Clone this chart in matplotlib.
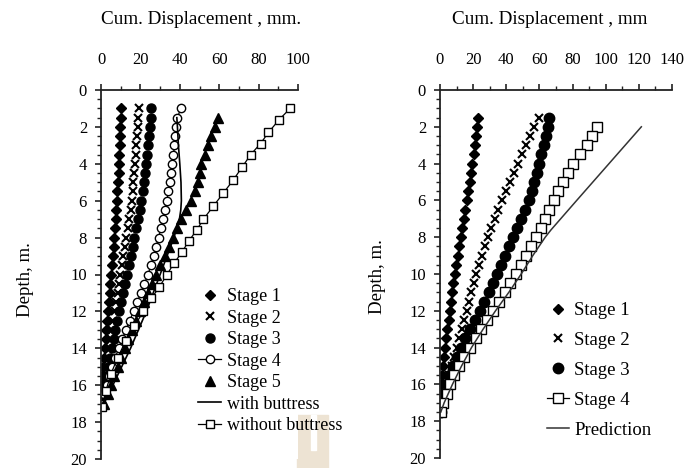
import matplotlib
matplotlib.use('Agg')
import matplotlib.pyplot as plt
from matplotlib.ticker import MultipleLocator
from matplotlib.patches import Rectangle

plt.rcParams['font.family'] = ['Liberation Serif', 'DejaVu Serif']

# ---- left chart: inclinometer readings (depth in m, displacement in mm) ----
depth_left = [1.0, 1.5, 2.0, 2.5, 3.0, 3.5, 4.0, 4.5, 5.0, 5.5, 6.0, 6.5, 7.0, 7.5, 8.0, 8.5,
              9.0, 9.5, 10.0, 10.5, 11.0, 11.5, 12.0, 12.5, 13.0, 13.5, 14.0, 14.5, 15.0,
              15.5, 16.0, 16.5, 17.0]
left_stage1 = [10.0, 10.0, 9.8, 9.7, 9.5, 9.3, 9.1, 8.9, 8.6, 8.3, 8.0, 7.7, 7.4, 7.1, 6.8, 6.4,
               6.0, 5.6, 5.2, 4.8, 4.4, 3.9, 3.5, 3.1, 2.7, 2.3, 1.9, 1.5, 1.2, 0.9, 0.6, 0.3, 0.0]
left_stage2 = [19.3, 19.0, 18.7, 18.4, 18.0, 17.6, 17.2, 16.8, 16.4, 16.0, 15.5, 15.0, 14.3,
               13.5, 12.6, 12.0, 11.3, 10.6, 9.8, 9.2, 8.5, 7.8, 7.0, 6.3, 5.6, 4.9, 4.1, 3.4,
               2.7, 2.0, 1.3, 0.6, 0.0]
left_stage3 = [25.5, 25.3, 25.0, 24.6, 24.1, 23.6, 23.0, 22.4, 21.8, 21.1, 20.4, 19.6, 18.8,
               17.9, 17.0, 16.1, 15.1, 14.1, 13.1, 12.1, 11.1, 10.1, 9.1, 8.2, 7.3, 6.4, 5.5,
               4.6, 3.7, 2.8, 1.9, 0.9, 0.0]
left_stage4 = [40.5, 38.8, 38.2, 37.7, 37.3, 36.8, 36.2, 35.6, 34.9, 34.2, 33.4, 32.5, 31.5,
               30.4, 29.2, 28.0, 26.7, 25.3, 23.9, 22.0, 20.2, 18.4, 16.5, 14.6, 12.7, 10.8,
               9.0, 7.3, 5.7, 4.2, 2.8, 1.4, 0.0]
depth_stage5 = [1.5, 2.0, 2.5, 3.0, 3.5, 4.0, 4.5, 5.0, 5.5, 6.0, 6.5, 7.0, 7.5, 8.0, 8.5, 9.0,
                9.5, 10.0, 10.5, 11.0, 11.5, 12.0, 12.5, 13.0, 13.5, 14.0, 14.5, 15.0, 15.5,
                16.0, 16.5, 17.0]
left_stage5 = [59.5, 57.8, 56.0, 54.4, 52.7, 51.0, 50.0, 49.0, 47.5, 45.5, 43.0, 40.5, 38.5,
               36.5, 34.5, 32.3, 30.2, 28.0, 25.8, 23.7, 21.6, 19.6, 17.7, 15.8, 13.9, 12.0,
               10.2, 8.4, 6.7, 5.0, 3.3, 1.6]
depth_buttress = [1.5, 2.0, 3.0, 4.0, 5.0, 6.0, 6.5, 7.0, 8.0, 9.0, 10.0, 11.0, 12.0, 13.0,
                  14.0, 15.0, 16.0, 17.0]
with_buttress = [38.5, 38.8, 39.3, 40.0, 40.6, 40.8, 40.5, 39.8, 37.0, 33.5, 30.0, 26.5, 23.0,
                 19.0, 15.0, 10.5, 6.0, 1.5]
depth_no_buttress = [1.0, 1.6, 2.3, 2.9, 3.5, 4.2, 4.9, 5.6, 6.3, 7.0, 7.6, 8.2, 8.8, 9.4, 10.0,
                     10.7, 11.3, 12.0, 12.8, 13.6, 14.5, 15.4, 16.3, 17.2]
without_buttress = [96.0, 90.5, 85.0, 81.0, 76.0, 71.5, 67.0, 62.0, 57.0, 52.0, 48.5, 44.5,
                    41.0, 37.0, 33.5, 29.5, 25.5, 21.5, 17.0, 12.5, 8.5, 5.0, 2.5, 0.5]

# ---- right chart ----
depth_right = [1.5, 2.0, 2.5, 3.0, 3.5, 4.0, 4.5, 5.0, 5.5, 6.0, 6.5, 7.0, 7.5, 8.0, 8.5, 9.0,
               9.5, 10.0, 10.5, 11.0, 11.5, 12.0, 12.5, 13.0, 13.5, 14.0, 14.5, 15.0, 15.5,
               16.0, 16.5, 17.0, 17.5]
right_stage1 = [22.7, 22.2, 21.6, 21.0, 20.3, 19.6, 18.8, 18.0, 17.1, 16.2, 15.3, 14.3, 13.3,
                12.4, 11.5, 10.6, 9.7, 8.8, 8.0, 7.3, 6.6, 5.9, 5.2, 4.5, 3.8, 3.1, 2.5, 1.9,
                1.4, 0.9, 0.5, 0.2, 0.0]
right_stage2 = [60.0, 57.0, 54.5, 52.0, 49.5, 47.0, 44.5, 42.0, 39.7, 37.5, 35.2, 33.0, 31.0,
                29.0, 27.2, 25.5, 23.7, 22.0, 20.5, 19.0, 17.5, 16.0, 14.5, 13.0, 11.5, 10.0,
                8.5, 7.0, 5.5, 4.0, 2.7, 1.5, 0.5]
right_stage3 = [66.0, 65.0, 63.8, 62.5, 61.2, 60.0, 58.5, 57.0, 55.3, 53.5, 51.3, 49.0, 46.5,
                44.0, 41.5, 39.0, 36.8, 34.5, 32.0, 29.5, 26.8, 24.0, 21.0, 18.0, 15.2, 12.5,
                10.2, 8.0, 6.0, 4.0, 2.6, 1.5, 0.5]
depth_right_stage4 = [2.0, 2.5, 3.0, 3.5, 4.0, 4.5, 5.0, 5.5, 6.0, 6.5, 7.0, 7.5, 8.0, 8.5, 9.0,
                      9.5, 10.0, 10.5, 11.0, 11.5, 12.0, 12.5, 13.0, 13.5, 14.0, 14.5, 15.0,
                      15.5, 16.0, 16.5, 17.0, 17.5]
right_stage4 = [94.5, 91.5, 88.5, 84.5, 80.5, 77.5, 74.5, 71.5, 68.5, 66.0, 63.5, 61.0, 58.0,
                55.0, 52.0, 49.0, 46.0, 42.5, 39.0, 35.5, 32.0, 28.5, 25.0, 21.5, 18.0, 14.5,
                11.5, 8.5, 6.0, 4.0, 2.0, 0.5]
depth_prediction = [2.0, 4.0, 6.0, 7.6, 8.0, 9.0, 10.0, 11.0, 12.0, 13.0, 14.0, 15.0, 16.0,
                    17.0, 17.5]
prediction = [121.5, 102.0, 82.5, 67.0, 63.5, 56.0, 49.0, 41.5, 33.5, 26.0, 19.0, 13.0, 7.5,
              2.5, 0.5]

W, H = 686, 468
fig = plt.figure(figsize=(W / 100, H / 100), dpi=100)


def px_axes(x0, x1, ytop, ybot):
    # axes rectangle from pixel edges
    return fig.add_axes([x0 / W, 1 - ybot / H, (x1 - x0) / W, (ybot - ytop) / H])


def style_axes(ax, xmax):
    ax.set_xlim(0, xmax)
    ax.set_ylim(20, 0)
    ax.xaxis.set_major_locator(MultipleLocator(20))
    ax.xaxis.set_minor_locator(MultipleLocator(10))
    ax.yaxis.set_major_locator(MultipleLocator(2))
    ax.yaxis.set_minor_locator(MultipleLocator(0.5))
    ax.xaxis.tick_top()
    ax.spines['right'].set_visible(False)
    ax.spines['bottom'].set_visible(False)
    for s in ('top', 'left'):
        ax.spines[s].set_linewidth(1.3)
        ax.spines[s].set_color('#222222')
    ax.tick_params(axis='both', which='both', direction='out', colors='#222222',
                   labelcolor='black', labelsize=12)
    ax.tick_params(axis='both', which='major', length=4, width=1.2)
    ax.tick_params(axis='both', which='minor', length=3, width=1.0)
    ax.tick_params(axis='x', which='major', pad=12)
    ax.tick_params(axis='y', which='major', pad=6)


# left chart
ax1 = px_axes(101, 298, 90, 459)
style_axes(ax1, 100)
ax1.plot(left_stage1, depth_left, 'D', color='black', ms=5.2, ls='none', label='Stage 1')
ax1.plot(left_stage2, depth_left, 'x', color='black', ms=5.5, mew=1.5, ls='none', label='Stage 2')
ax1.plot(left_stage3, depth_left, 'o', color='black', ms=6.5, ls='none', label='Stage 3')
ax1.plot(left_stage4, depth_left, '-o', color='black', mfc='white', ms=6, lw=0.9, mew=1.0,
         label='Stage 4')
ax1.plot(left_stage5, depth_stage5, '^', color='black', ms=7, ls='none', label='Stage 5')
ax1.plot(with_buttress, depth_buttress, '-', color='black', lw=1.2, label='with buttress')
ax1.plot(without_buttress, depth_no_buttress, '-s', color='black', mfc='white', ms=6, lw=0.9,
         mew=1.0, label='without buttress')
ax1.legend(loc='upper left', bbox_to_anchor=(198 / W, 1 - 288 / H),
           bbox_transform=fig.transFigure, frameon=False, fontsize=13, borderpad=0,
           borderaxespad=0, labelspacing=0.25, handlelength=1.3, handletextpad=0.3,
           numpoints=1)

# right chart
ax2 = px_axes(440, 672, 90, 458)
style_axes(ax2, 140)
ax2.plot(right_stage1, depth_right, 'D', color='black', ms=5.3, ls='none', label='Stage 1')
ax2.plot(right_stage2, depth_right, 'x', color='black', ms=6, mew=1.5, ls='none',
         label='Stage 2')
ax2.plot(right_stage3, depth_right, 'o', color='black', ms=7.5, ls='none', label='Stage 3')
ax2.plot(right_stage4, depth_right_stage4, '-s', color='black', mfc='white', ms=6.5, lw=0.9,
         mew=1.0, label='Stage 4')
ax2.plot(prediction, depth_prediction, '-', color='#333333', lw=1.1, label='Prediction')
ax2.legend(loc='upper left', bbox_to_anchor=(547 / W, 1 - 302 / H),
           bbox_transform=fig.transFigure, frameon=False, fontsize=13.5, borderpad=0,
           borderaxespad=0, labelspacing=0.68, handlelength=1.15, handletextpad=0.3,
           numpoints=1)

# axis titles
fig.text(201 / W, 1 - 20 / H, 'Cum. Displacement , mm.', ha='center', va='center',
         fontsize=13.8)
fig.text(550 / W, 1 - 20 / H, 'Cum. Displacement , mm', ha='center', va='center',
         fontsize=13.8)
fig.text(25 / W, 1 - 280 / H, 'Depth, m.', rotation=90, ha='center', va='center', fontsize=13.6)
fig.text(378 / W, 1 - 277 / H, 'Depth, m.', rotation=90, ha='center', va='center',
         fontsize=13.6)

# scanned page artefact near the bottom
fig.patches.append(Rectangle((297 / W, 0), 31 / W, 53 / H, transform=fig.transFigure,
                             color='#EDE3D3', zorder=-1))
fig.patches.append(Rectangle((311 / W, 18 / H), 5 / W, 35 / H, transform=fig.transFigure,
                             color='white', zorder=-1))

fig.savefig('out.png', dpi=100)
